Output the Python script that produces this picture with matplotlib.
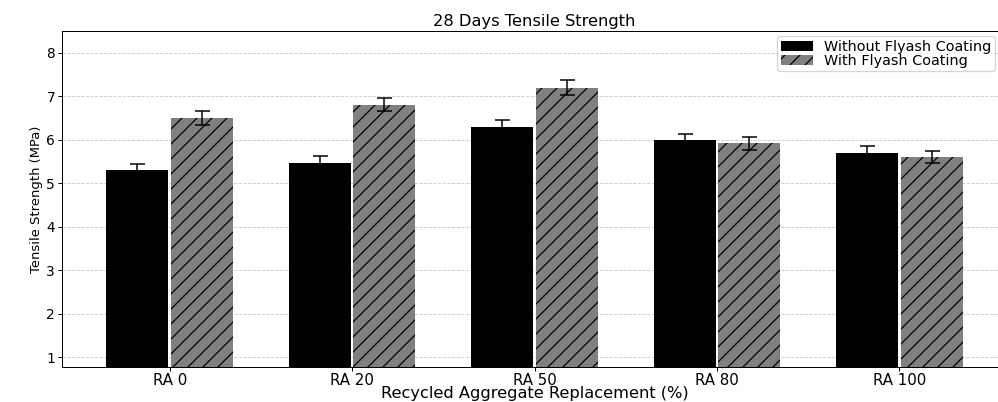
import numpy as np
import matplotlib
matplotlib.use("Agg")
import matplotlib.pyplot as plt

categories = ["RA 0", "RA 20", "RA 50", "RA 80", "RA 100"]
without_coating = [5.30, 5.47, 6.30, 6.00, 5.70]
without_err = [0.15, 0.15, 0.15, 0.13, 0.15]
with_coating = [6.50, 6.80, 7.20, 5.92, 5.60]
with_err = [0.17, 0.15, 0.17, 0.15, 0.14]

DPI = 90
fig = plt.figure(figsize=(998 / DPI, 402 / DPI), dpi=DPI)
# right spine falls just outside the picture, as in the reference crop
ax = fig.add_axes([62 / 998, 1 - 367 / 402, 945 / 998, (367 - 31) / 402])

x = np.arange(len(categories))
w = 0.34
off = 0.177

ax.grid(axis="y", linestyle="--", color="#cccccc", linewidth=0.7)
ax.set_axisbelow(True)

ax.bar(x - off, without_coating, w, color="black", label="Without Flyash Coating",
       yerr=without_err, capsize=6, error_kw=dict(ecolor="black", elinewidth=1.2, capthick=1.2))
ax.bar(x + off, with_coating, w, color="gray", edgecolor="black", linewidth=0, hatch="//",
       label="With Flyash Coating",
       yerr=with_err, capsize=6, error_kw=dict(ecolor="black", elinewidth=1.2, capthick=1.2))

ax.set_xticks(x)
ax.set_xticklabels(categories, fontsize=12)
ax.set_yticks(range(1, 9))
ax.tick_params(axis="x", length=3.5, pad=1)
ax.tick_params(axis="y", labelsize=11, length=3.5, pad=2)
ax.set_ylim(0.77, 8.5)
ax.set_xlim(-0.59, 4.59)

ax.set_title("28 Days Tensile Strength", fontsize=13, pad=4)
ax.set_xlabel("Recycled Aggregate Replacement (%)", fontsize=13, labelpad=-1)
ax.set_ylabel("Tensile Strength (MPa)", fontsize=10.5, labelpad=3)
ax.legend(loc="upper right", bbox_to_anchor=(995 / 998, 1 - 36 / 402),
          bbox_transform=fig.transFigure, borderaxespad=0, fontsize=11.5,
          handlelength=2.2, labelspacing=0.0, borderpad=0.25, fancybox=True)

fig.savefig("out.png", dpi=DPI)
